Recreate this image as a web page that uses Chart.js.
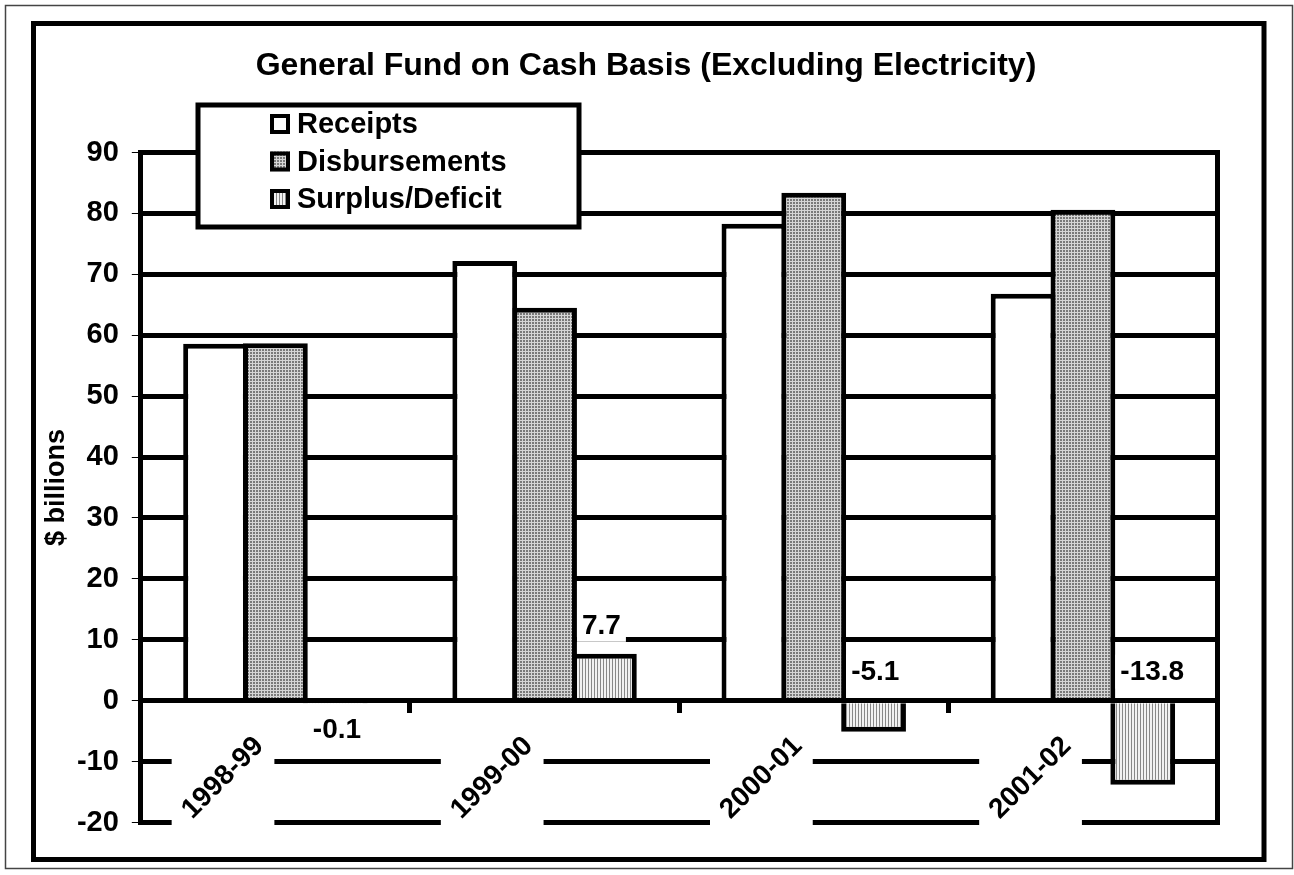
<!DOCTYPE html>
<html><head><meta charset="utf-8">
<script src="https://cdn.jsdelivr.net/npm/chart.js@4/dist/chart.umd.min.js"></script>
<style>html,body{margin:0;padding:0;background:#fff;overflow:hidden}#wrap{width:1294px;height:875px}</style>
</head><body><div id="wrap"><canvas id="c" width="1294" height="875"></canvas></div>
<script>
// ---- data ----
const categories = ['1998-99', '1999-00', '2000-01', '2001-02'];
const receipts = [58.6, 72.2, 78.3, 66.8];
const disbursements = [58.7, 64.5, 83.4, 80.6];
const surplusDeficit = [-0.1, 7.7, -5.1, -13.8];
const seriesNames = ['Receipts', 'Disbursements', 'Surplus/Deficit'];
const yMin = -20, yMax = 90, yStep = 10;
const chartTitle = 'General Fund on Cash Basis (Excluding Electricity)';
const yAxisTitle = '$ billions';

const FAM = "'Liberation Sans', Arial, Helvetica, sans-serif";

function makePattern(w, h, draw) {
  const c = document.createElement('canvas'); c.width = w; c.height = h;
  const x = c.getContext('2d'); draw(x);
  return x.createPattern(c, 'repeat');
}
const meshPattern = makePattern(3, 3, x => {
  x.fillStyle = '#7a7a7a'; x.fillRect(0, 0, 3, 3);
  x.fillStyle = '#d6d6d6'; x.fillRect(0, 0, 3, 1); x.fillRect(0, 0, 1, 3);
});
const stripePattern = makePattern(3, 1, x => {
  x.fillStyle = '#f2f2f2'; x.fillRect(0, 0, 3, 1);
  x.fillStyle = '#888888'; x.fillRect(0, 0, 1, 1);
});

const framePlugin = {
  id: 'frames',
  beforeDraw(chart) {
    const ctx = chart.ctx;
    ctx.save(); ctx.fillStyle = '#fff'; ctx.fillRect(0, 0, chart.width, chart.height); ctx.restore();
  },
  afterDraw(chart) {
    const ctx = chart.ctx;
    ctx.save();
    ctx.strokeStyle = '#444'; ctx.lineWidth = 1.5;
    ctx.strokeRect(5.5, 5.5, 1287, 863);
    ctx.strokeStyle = '#000'; ctx.lineWidth = 5;
    ctx.strokeRect(33.5, 23.5, 1230.5, 836);
    // legend
    const lx = 198, ly = 105, lw = 381, lh = 122;
    ctx.fillStyle = '#fff'; ctx.fillRect(lx, ly, lw, lh);
    ctx.strokeRect(lx, ly, lw, lh);
    const ys = [124, 161.5, 199];
    chart.data.datasets.forEach((ds, i) => {
      const cy = ys[i];
      ctx.fillStyle = ds.backgroundColor; ctx.fillRect(270, cy - 10, 20, 20);
      ctx.lineWidth = 4; ctx.strokeStyle = '#000'; ctx.strokeRect(272, cy - 8, 16, 16);
      ctx.fillStyle = '#000'; ctx.font = 'bold 29px ' + FAM;
      ctx.textAlign = 'left'; ctx.textBaseline = 'middle';
      ctx.fillText(ds.label, 297, cy + 1);
    });
    ctx.restore();
  }
};

const catLabelPlugin = {
  id: 'catLabels',
  beforeDatasetsDraw(chart) {
    const ctx = chart.ctx, xs = chart.scales.x, ys = chart.scales.y;
    const y0 = ys.getPixelForValue(0);
    ctx.save();
    ctx.font = 'bold 28px ' + FAM;
    categories.forEach((lab, i) => {
      const ax = xs.getPixelForValue(i) - 16, ay = y0 + 41;
      const W = ctx.measureText(lab).width, k = Math.SQRT1_2, pad = 8;
      const left = ax - k * (W + 10) - pad, right = ax + 7 + pad;
      const top = ay - 7 - pad, bottom = ay + k * W + 7 + pad;
      ctx.fillStyle = '#fff'; ctx.fillRect(left, top, right - left, bottom - top);
      ctx.save(); ctx.translate(ax, ay); ctx.rotate(-Math.PI / 4);
      ctx.fillStyle = '#000'; ctx.textAlign = 'right'; ctx.textBaseline = 'middle';
      ctx.fillText(lab, 0, 0); ctx.restore();
    });
    ctx.restore();
  }
};

const valueLabelPlugin = {
  id: 'valueLabels',
  afterDatasetsDraw(chart, args, opts) {
    const ctx = chart.ctx, ys = chart.scales.y;
    const meta = chart.getDatasetMeta(2);
    ctx.save();
    ctx.font = 'bold 28px ' + FAM;
    // right border of plot
    const ca = chart.chartArea;
    ctx.strokeStyle = '#000'; ctx.lineWidth = 5;
    ctx.beginPath(); ctx.moveTo(ca.right, ca.top - 2.5); ctx.lineTo(ca.right, ca.bottom + 2.5); ctx.stroke();
    meta.data.forEach((bar, i) => {
      const v = surplusDeficit[i];
      const txt = v.toFixed(1);
      const tx = bar.x - bar.width / 2 + 10;
      const ty = opts.sides[i] === 'below' ? ys.getPixelForValue(0) + 29 : ys.getPixelForValue(Math.max(0, v)) - 29;
      const W = ctx.measureText(txt).width;
      ctx.fillStyle = '#fff'; ctx.fillRect(tx - 5, ty - 17, W + 10, 34);
      ctx.fillStyle = '#000'; ctx.textAlign = 'left'; ctx.textBaseline = 'middle';
      ctx.fillText(txt, tx, ty + 1);
    });
    ctx.restore();
  }
};

const barCommon = { borderColor: '#000', borderWidth: 5, borderSkipped: 'start', categoryPercentage: 0.6667, barPercentage: 1.083 };

new Chart(document.getElementById('c'), {
  type: 'bar',
  data: {
    labels: categories,
    datasets: [
      Object.assign({ label: seriesNames[0], data: receipts, backgroundColor: '#ffffff' }, barCommon),
      Object.assign({ label: seriesNames[1], data: disbursements, backgroundColor: meshPattern }, barCommon),
      Object.assign({ label: seriesNames[2], data: surplusDeficit, backgroundColor: stripePattern }, barCommon)
    ]
  },
  plugins: [framePlugin, catLabelPlugin, valueLabelPlugin],
  options: {
    responsive: false, animation: false, events: [], devicePixelRatio: 1,
    layout: { padding: { left: 74.5, right: 76.5, top: 0, bottom: 52.5 } },
    plugins: {
      legend: { display: false }, tooltip: { enabled: false },
      title: { display: true, text: chartTitle, color: '#000',
        font: { family: FAM, size: 32, weight: 'bold', lineHeight: 1.2 },
        padding: { top: 47.3, bottom: 66.8 } },
      valueLabels: { sides: ['below', 'above', 'above', 'above'] }
    },
    scales: {
      x: {
        type: 'category', position: { y: 0 }, offset: true,
        grid: { display: true, drawOnChartArea: false, drawTicks: true, tickLength: 10, tickWidth: 5, tickColor: '#000', offset: true },
        border: { display: true, width: 5, color: '#000', z: 1 },
        ticks: { display: false },
        afterFit(s) { s.height = 0; }
      },
      y: {
        min: yMin, max: yMax,
        ticks: { stepSize: yStep, color: '#000', padding: 13, font: { family: FAM, size: 29, weight: 'bold' } },
        grid: { color: '#000', lineWidth: 5, drawTicks: true, tickLength: 9, tickWidth: 1, tickColor: '#000' },
        border: { display: true, width: 5, color: '#000' },
        title: { display: true, text: yAxisTitle, color: '#000', font: { family: FAM, size: 27, weight: 'bold', lineHeight: 1.2 }, padding: { top: -33.7, bottom: 0 } },
        afterFit(s) { s.width = 66.3; }
      }
    }
  }
});
</script>
</body></html>
